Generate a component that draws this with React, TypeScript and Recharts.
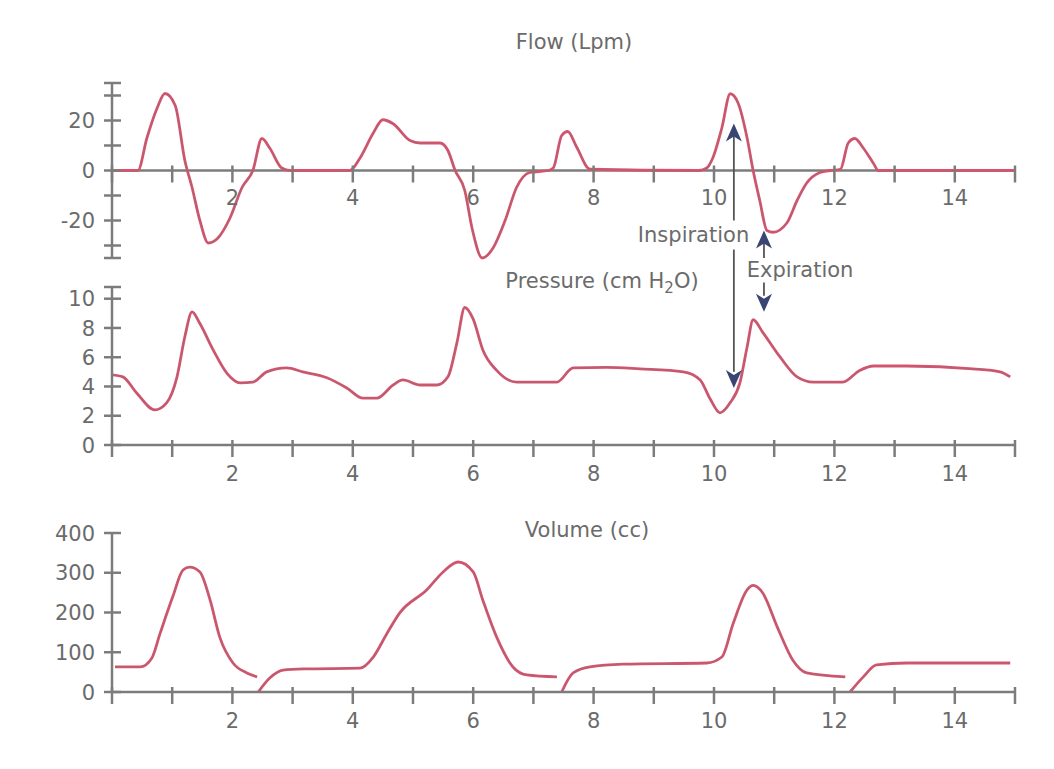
import React from 'react';
import { LineChart, Line, XAxis, YAxis, ReferenceLine, ReferenceDot } from 'recharts';

const FONT = '"DejaVu Sans", "Liberation Sans", Arial, sans-serif';
const TEXT = '#6b6b6b';
const AXIS = '#7c7c7c';
const PINK = '#e2506f';
const GREY_LINE = '#85716f';
const NAVY = '#3b4574';

// time axis
const xTicks = [0, 1, 2, 3, 4, 5, 6, 7, 8, 9, 10, 11, 12, 13, 14, 15];
const xLabels = [2, 4, 6, 8, 10, 12, 14];

// Flow (Lpm)
const flowTime = [0, 0.43, 0.58, 0.75, 0.88, 1.05, 1.21, 1.33, 1.46, 1.6, 1.76, 1.96, 2.16, 2.34, 2.49, 2.62, 2.82, 2.96, 3.95, 4.12, 4.34, 4.5, 4.67, 4.95, 5.12, 5.45, 5.58, 5.7, 5.86, 5.98, 6.15, 6.33, 6.53, 6.72, 6.94, 7.25, 7.33, 7.47, 7.57, 7.72, 7.94, 9.75, 9.88, 9.98, 10.13, 10.27, 10.4, 10.55, 10.65, 10.76, 10.88, 10.98, 11.21, 11.38, 11.54, 11.76, 11.93, 12.1, 12.23, 12.34, 12.48, 12.65, 12.73, 15];
const flowValues = [0, 0, 13, 25, 30.8, 26, 4, -6.8, -20, -29, -27, -19, -6.8, 0, 12.8, 9, 1, 0, 0, 5, 15, 20.3, 18.7, 12, 11, 11, 8, 0, -8, -23, -35, -31, -20, -6.8, -0.8, 0, 1, 14, 15.6, 9.3, 0.5, 0, 1, 5, 17, 30.7, 27, 13, 0, -12, -24, -24.7, -21, -12, -5, -0.8, 0, 0.5, 11, 12.8, 9, 2.8, 0, 0];
const flowTicks = [-35, -30, -20, -10, 0, 10, 20, 30, 35];
const flowLabels = [-20, 0, 20];

// Pressure (cm H2O)
const pressureTime = [0, 0.18, 0.41, 0.71, 0.91, 1.08, 1.21, 1.33, 1.46, 1.68, 1.91, 2.13, 2.34, 2.57, 2.9, 3.17, 3.57, 3.9, 4.17, 4.4, 4.67, 4.83, 5.12, 5.4, 5.58, 5.73, 5.86, 6.0, 6.16, 6.39, 6.72, 7.39, 7.66, 8.22, 8.77, 9.49, 9.77, 9.93, 10.1, 10.27, 10.43, 10.55, 10.65, 10.81, 11.1, 11.38, 11.65, 12.14, 12.42, 12.65, 13.2, 14.3, 14.75, 14.92];
const pressureValues = [4.8, 4.66, 3.55, 2.4, 2.9, 4.66, 7.4, 9.1, 8.3, 6.5, 4.9, 4.25, 4.3, 5.0, 5.27, 5.0, 4.6, 3.9, 3.2, 3.2, 4.1, 4.45, 4.1, 4.1, 4.66, 7.0, 9.4, 8.6, 6.5, 5.1, 4.3, 4.3, 5.27, 5.3, 5.2, 5.0, 4.45, 3.2, 2.2, 2.9, 4.25, 6.7, 8.56, 7.7, 6.0, 4.66, 4.3, 4.3, 5.1, 5.4, 5.4, 5.2, 5.0, 4.66];
const pressureTicks = [0, 2, 4, 6, 8, 10, 10.8];
const pressureLabels = [0, 2, 4, 6, 8, 10];

// Volume (cc) -- null marks the resets
const volumeTime = [0.05, 0.47, 0.66, 0.8, 1.01, 1.18, 1.29, 1.46, 1.63, 1.79, 2.01, 2.24, 2.41, 2.42, 2.43, 2.62, 2.84, 3.2, 4.12, 4.34, 4.57, 4.78, 5.23, 5.5, 5.75, 6.0, 6.16, 6.39, 6.66, 6.89, 7.39, 7.43, 7.47, 7.66, 7.94, 8.49, 9.88, 10.13, 10.32, 10.55, 10.65, 10.81, 11.05, 11.31, 11.54, 12.18, 12.22, 12.26, 12.48, 12.7, 13.2, 14.92];
const volumeValues: (number | null)[] = [63, 63, 85, 148, 240, 307, 314, 302, 231, 138, 73, 48, 38, null, 0, 35, 55, 58, 60, 88, 148, 199, 257, 302, 327, 302, 231, 138, 63, 43, 38, null, 0, 48, 63, 70, 73, 88, 173, 257, 268, 249, 164, 80, 48, 38, null, 0, 38, 68, 73, 73];
const volumeTicks = [0, 100, 200, 300, 400];
const volumeLabels = [0, 100, 200, 300, 400];

// annotation anchors (time)
const inspirationTime = 10.33;
const expirationTime = 10.83;

const flowData = flowTime.map((t, i) => ({ t, v: flowValues[i] }));
const pressureData = pressureTime.map((t, i) => ({ t, v: pressureValues[i] }));
const volumeData = volumeTime.map((t, i) => ({ t, v: volumeValues[i] }));

const makeYTick = (labels: number[]) => (props: any) => {
  const { x, y, payload } = props;
  const show = labels.includes(payload.value);
  return (
    <g>
      <line x1={x - 8} x2={x + 9} y1={y} y2={y} stroke={AXIS} strokeWidth={2.5} />
      {show && (
        <text x={x - 17} y={y} dy="0.36em" textAnchor="end" fill={TEXT} fontSize={21} fontFamily={FONT}>
          {payload.value}
        </text>
      )}
    </g>
  );
};

const XTick = (props: any) => {
  const { x, y, payload } = props;
  const show = xLabels.includes(payload.value);
  return (
    <g>
      <line x1={x} x2={x} y1={y - 5} y2={y + 12} stroke={AXIS} strokeWidth={2.5} />
      {show && (
        <text x={x} y={y + 28} dy="0.36em" textAnchor="middle" fill={TEXT} fontSize={21} fontFamily={FONT}>
          {payload.value}
        </text>
      )}
    </g>
  );
};

const FlowXTick = (props: any) => {
  const { cx, cy, value } = props;
  const show = xLabels.includes(value);
  return (
    <g>
      <line x1={cx} x2={cx} y1={cy - 5} y2={cy + 12} stroke={AXIS} strokeWidth={2.5} />
      {show && (
        <text x={cx} y={cy + 27} dy="0.36em" textAnchor="middle" fill={TEXT} fontSize={21} fontFamily={FONT}>
          {value}
        </text>
      )}
    </g>
  );
};

const ArrowHead = (props: any) => {
  const { cx, cy, dir } = props;
  const s = dir === 'up' ? 1 : -1;
  const pts = [
    [cx, cy],
    [cx - 8, cy + s * 18],
    [cx, cy + s * 13],
    [cx + 8, cy + s * 18],
  ]
    .map((p) => p.join(','))
    .join(' ');
  return <polygon points={pts} fill={NAVY} />;
};

const AnnoText = (props: any) => {
  const { cx, cy, text } = props;
  return (
    <text x={cx} y={cy} dy="0.36em" textAnchor="middle" fill={TEXT} fontSize={21} fontFamily={FONT}>
      {text}
    </text>
  );
};

const seriesLines = (data: any[]) => [
  <Line key="a" data={data} dataKey="v" type="monotone" dot={false} stroke={PINK} strokeWidth={2.8} isAnimationActive={false} connectNulls={false} />,
  <Line key="b" data={data} dataKey="v" type="monotone" dot={false} stroke={GREY_LINE} strokeOpacity={0.55} strokeWidth={1.2} isAnimationActive={false} connectNulls={false} />,
];

const titleStyle = (left: number, top: number): React.CSSProperties => ({
  position: 'absolute',
  left,
  top,
  transform: 'translate(-50%, -50%)',
  fontFamily: FONT,
  fontSize: 21,
  color: TEXT,
  whiteSpace: 'nowrap',
  lineHeight: '24px',
});

export default function App() {
  return (
    <div style={{ position: 'absolute', left: 0, top: 0, width: 1054, height: 769, background: '#fff', overflow: 'hidden' }}>
      <div style={titleStyle(574, 42)}>Flow (Lpm)</div>
      <div style={titleStyle(602, 284)}>
        Pressure (cm H<sub style={{ fontSize: 15, verticalAlign: '-5px' }}>2</sub>O)
      </div>
      <div style={titleStyle(587, 530)}>Volume (cc)</div>

      {/* Flow */}
      <div style={{ position: 'absolute', left: 0, top: 0 }}>
        <LineChart width={1054} height={265} margin={{ top: 83, right: 39, bottom: 7, left: 0 }}>
          <XAxis dataKey="t" type="number" domain={[0, 15]} ticks={xTicks} hide />
          <YAxis
            type="number"
            domain={[-35, 35]}
            ticks={flowTicks}
            interval={0}
            width={112}
            tickSize={0}
            tickMargin={0}
            tickLine={false}
            axisLine={{ stroke: AXIS, strokeWidth: 2.5 }}
            tick={makeYTick(flowLabels)}
          />
          <ReferenceLine y={0} stroke={AXIS} strokeWidth={2.5} />
          {xTicks.map((t) => (
            <ReferenceDot key={t} x={t} y={0} r={0} ifOverflow="visible" shape={(p: any) => <FlowXTick {...p} value={t} />} />
          ))}
          {seriesLines(flowData)}
          <ReferenceLine
            segment={[{ x: inspirationTime, y: 17 }, { x: inspirationTime, y: -20 }]}
            stroke="#555"
            strokeWidth={1.8}
            ifOverflow="visible"
          />
          <ReferenceDot x={inspirationTime} y={18.8} r={0} ifOverflow="visible" shape={(p: any) => <ArrowHead {...p} dir="up" />} />
          <ReferenceLine
            segment={[{ x: expirationTime, y: -28 }, { x: expirationTime, y: -35 }]}
            stroke="#555"
            strokeWidth={1.8}
            ifOverflow="visible"
          />
          <ReferenceDot x={expirationTime} y={-24} r={0} ifOverflow="visible" shape={(p: any) => <ArrowHead {...p} dir="up" />} />
          <ReferenceDot x={9.66} y={-25.6} r={0} ifOverflow="visible" shape={(p: any) => <AnnoText {...p} text="Inspiration" />} />
        </LineChart>
      </div>

      {/* Pressure */}
      <div style={{ position: 'absolute', left: 0, top: 240 }}>
        <LineChart width={1054} height={250} margin={{ top: 47, right: 39, bottom: 0, left: 0 }}>
          <XAxis
            dataKey="t"
            type="number"
            domain={[0, 15]}
            ticks={xTicks}
            interval={0}
            height={45}
            tickSize={0}
            tickMargin={0}
            tickLine={false}
            axisLine={{ stroke: AXIS, strokeWidth: 2.5 }}
            tick={XTick}
          />
          <YAxis
            type="number"
            domain={[0, 10.8]}
            ticks={pressureTicks}
            interval={0}
            width={112}
            tickSize={0}
            tickMargin={0}
            tickLine={false}
            axisLine={{ stroke: AXIS, strokeWidth: 2.5 }}
            tick={makeYTick(pressureLabels)}
          />
          {seriesLines(pressureData)}
          <ReferenceLine
            segment={[{ x: inspirationTime, y: 13.36 }, { x: inspirationTime, y: 5 }]}
            stroke="#555"
            strokeWidth={1.8}
            ifOverflow="visible"
          />
          <ReferenceDot x={inspirationTime} y={3.9} r={0} ifOverflow="visible" shape={(p: any) => <ArrowHead {...p} dir="down" />} />
          <ReferenceLine
            segment={[{ x: expirationTime, y: 11.1 }, { x: expirationTime, y: 10.2 }]}
            stroke="#555"
            strokeWidth={1.8}
            ifOverflow="visible"
          />
          <ReferenceDot x={expirationTime} y={9.1} r={0} ifOverflow="visible" shape={(p: any) => <ArrowHead {...p} dir="down" />} />
          <ReferenceDot x={11.43} y={12} r={0} ifOverflow="visible" shape={(p: any) => <AnnoText {...p} text="Expiration" />} />
        </LineChart>
      </div>

      {/* Volume */}
      <div style={{ position: 'absolute', left: 0, top: 500 }}>
        <LineChart width={1054} height={240} margin={{ top: 33, right: 39, bottom: 0, left: 0 }}>
          <XAxis
            dataKey="t"
            type="number"
            domain={[0, 15]}
            ticks={xTicks}
            interval={0}
            height={48}
            tickSize={0}
            tickMargin={0}
            tickLine={false}
            axisLine={{ stroke: AXIS, strokeWidth: 2.5 }}
            tick={XTick}
          />
          <YAxis
            type="number"
            domain={[0, 400]}
            ticks={volumeTicks}
            interval={0}
            width={112}
            tickSize={0}
            tickMargin={0}
            tickLine={false}
            axisLine={{ stroke: AXIS, strokeWidth: 2.5 }}
            tick={makeYTick(volumeLabels)}
          />
          {seriesLines(volumeData)}
        </LineChart>
      </div>
    </div>
  );
}
